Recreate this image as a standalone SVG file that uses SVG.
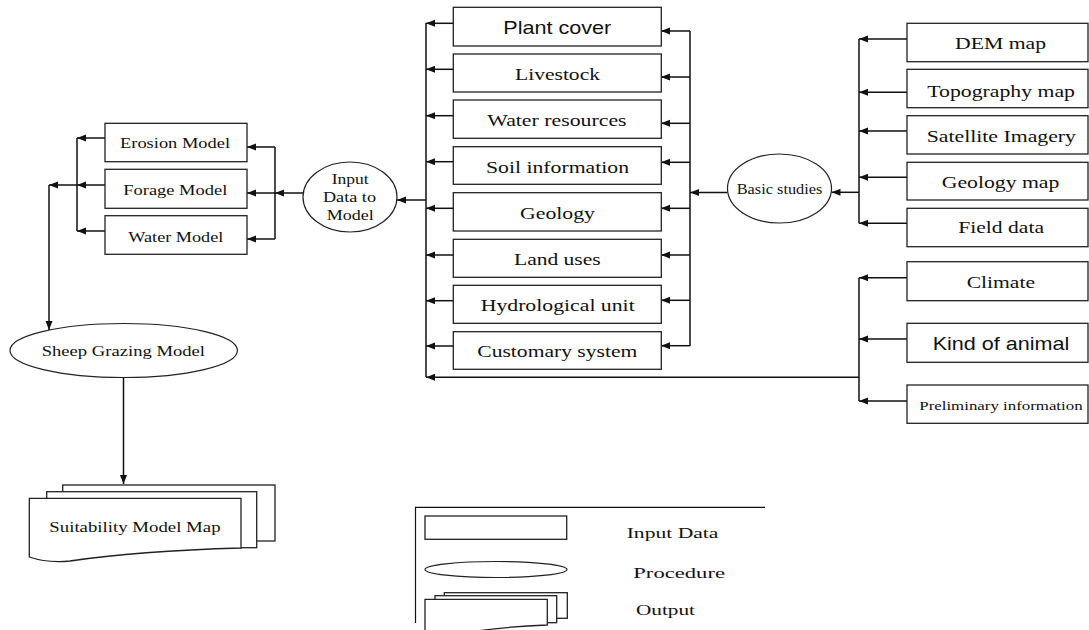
<svg xmlns="http://www.w3.org/2000/svg" width="1089" height="630" viewBox="0 0 1089 630">
<defs>
<marker id="ah" markerUnits="userSpaceOnUse" markerWidth="10" markerHeight="8" refX="9" refY="3.5" orient="auto">
<path d="M0,0 L9,3.5 L0,7 z" fill="#111"/>
</marker>
<style>
.box{fill:#fff;stroke:#222;stroke-width:1.3}
.el{fill:#fff;stroke:#222;stroke-width:1.2}
.ln{fill:none;stroke:#111;stroke-width:1.5}
.ar{fill:none;stroke:#111;stroke-width:1.5;marker-end:url(#ah)}
.t{font-family:"Liberation Serif","Times New Roman",serif;fill:#111}
.s{font-family:"Liberation Sans",Arial,sans-serif;fill:#111}
</style>
</defs>
<rect width="1089" height="630" fill="#fff"/>

<g id="connectors">
<!-- left model group -->
<path class="ln" d="M77,138 V231"/>
<path class="ar" d="M105,138 H77"/>
<path class="ar" d="M105,185 H77"/>
<path class="ar" d="M105,231 H77"/>
<path class="ar" d="M77,185 H49"/>
<path class="ar" d="M49,185 V330"/>
<path class="ln" d="M275,147 V239"/>
<path class="ar" d="M275,147 H247"/>
<path class="ar" d="M275,193 H247"/>
<path class="ar" d="M275,239 H247"/>
<path class="ar" d="M303,193 H275"/>
<path class="ar" d="M426,200 H397"/>
<!-- middle group -->
<path class="ln" d="M426,23 V377"/>
<path class="ar" d="M453,23.3 H426"/>
<path class="ar" d="M453,69.3 H426"/>
<path class="ar" d="M453,115.7 H426"/>
<path class="ar" d="M453,161.7 H426"/>
<path class="ar" d="M453,208.3 H426"/>
<path class="ar" d="M453,255 H426"/>
<path class="ar" d="M453,300.7 H426"/>
<path class="ar" d="M453,346 H426"/>
<path class="ln" d="M690,31 V346"/>
<path class="ar" d="M690,31 H661"/>
<path class="ar" d="M690,77 H661"/>
<path class="ar" d="M690,123.3 H661"/>
<path class="ar" d="M690,162.3 H661"/>
<path class="ar" d="M690,208.3 H661"/>
<path class="ar" d="M690,255 H661"/>
<path class="ar" d="M690,300.3 H661"/>
<path class="ar" d="M690,345.7 H661"/>
<path class="ar" d="M727.5,192.5 H690"/>
<path class="ar" d="M859,377.3 H426"/>
<!-- right group -->
<path class="ln" d="M859,39 V223.3"/>
<path class="ar" d="M907,39 H859"/>
<path class="ar" d="M907,92.3 H859"/>
<path class="ar" d="M907,131 H859"/>
<path class="ar" d="M907,177.3 H859"/>
<path class="ar" d="M907,223.3 H859"/>
<path class="ar" d="M859,192.3 H831.5"/>
<path class="ln" d="M859,277.7 V401"/>
<path class="ar" d="M907,277.7 H859"/>
<path class="ar" d="M907,339 H859"/>
<path class="ar" d="M907,401 H859"/>
<!-- sheep to output -->
<path class="ar" d="M123.5,377.5 V484"/>
</g>

<g id="erosion-model"><rect class="box" x="105" y="123.3" width="142" height="38.4"/><text class="t" x="120" y="148.3" font-size="15" textLength="110" lengthAdjust="spacingAndGlyphs">Erosion Model</text></g>
<g id="forage-model"><rect class="box" x="105" y="169.3" width="142" height="39"/><text class="t" x="123.3" y="195" font-size="15" textLength="104" lengthAdjust="spacingAndGlyphs">Forage Model</text></g>
<g id="water-model"><rect class="box" x="105" y="215.7" width="142" height="38.6"/><text class="t" x="128.3" y="241.7" font-size="15" textLength="95" lengthAdjust="spacingAndGlyphs">Water Model</text></g>

<g id="input-data-to-model"><ellipse class="el" cx="350" cy="197" rx="47" ry="35"/>
<text class="t" x="331.7" y="184" font-size="15.5" textLength="37" lengthAdjust="spacingAndGlyphs">Input</text>
<text class="t" x="323" y="202" font-size="15.5" textLength="53" lengthAdjust="spacingAndGlyphs">Data to</text>
<text class="t" x="326.7" y="220" font-size="15.5" textLength="47" lengthAdjust="spacingAndGlyphs">Model</text></g>

<g id="plant-cover"><rect class="box" x="453.3" y="7.3" width="208" height="38.7"/><text class="s" x="503.3" y="34.3" font-size="19" textLength="108" lengthAdjust="spacingAndGlyphs">Plant cover</text></g>
<g id="livestock"><rect class="box" x="453.3" y="54" width="208" height="38"/><text class="t" x="515" y="80" font-size="17.5" textLength="85" lengthAdjust="spacingAndGlyphs">Livestock</text></g>
<g id="water-resources"><rect class="box" x="453.3" y="100" width="208" height="38.3"/><text class="t" x="487.3" y="126" font-size="17.5" textLength="139.3" lengthAdjust="spacingAndGlyphs">Water resources</text></g>
<g id="soil-information"><rect class="box" x="453.3" y="146.7" width="208" height="37.6"/><text class="t" x="486" y="172.7" font-size="17.5" textLength="143" lengthAdjust="spacingAndGlyphs">Soil information</text></g>
<g id="geology"><rect class="box" x="453.3" y="192.7" width="208" height="38.3"/><text class="t" x="520" y="219.3" font-size="17.5" textLength="75" lengthAdjust="spacingAndGlyphs">Geology</text></g>
<g id="land-uses"><rect class="box" x="453.3" y="239.3" width="208" height="38"/><text class="t" x="514" y="265" font-size="17.5" textLength="86.7" lengthAdjust="spacingAndGlyphs">Land uses</text></g>
<g id="hydrological-unit"><rect class="box" x="453.3" y="285.3" width="208" height="38"/><text class="t" x="480.7" y="311" font-size="17.5" textLength="154" lengthAdjust="spacingAndGlyphs">Hydrological unit</text></g>
<g id="customary-system"><rect class="box" x="453.3" y="331.7" width="208" height="37.6"/><text class="t" x="477.3" y="356.7" font-size="17.5" textLength="160" lengthAdjust="spacingAndGlyphs">Customary system</text></g>

<g id="basic-studies"><ellipse class="el" cx="779.5" cy="188.5" rx="52" ry="34.5"/><text class="t" x="736.7" y="194" font-size="14" textLength="85.7" lengthAdjust="spacingAndGlyphs">Basic studies</text></g>

<g id="dem-map"><rect class="box" x="907" y="23.3" width="181" height="38.4"/><text class="t" x="955" y="49.3" font-size="17.5" textLength="91" lengthAdjust="spacingAndGlyphs">DEM map</text></g>
<g id="topography-map"><rect class="box" x="907" y="69.3" width="181" height="38.4"/><text class="t" x="927.3" y="96.7" font-size="17.5" textLength="147.7" lengthAdjust="spacingAndGlyphs">Topography map</text></g>
<g id="satellite-imagery"><rect class="box" x="907" y="115.7" width="181" height="38.3"/><text class="t" x="926.7" y="141.7" font-size="17.5" textLength="149.3" lengthAdjust="spacingAndGlyphs">Satellite Imagery</text></g>
<g id="geology-map"><rect class="box" x="907" y="162.3" width="181" height="37.7"/><text class="t" x="941.7" y="188.3" font-size="17.5" textLength="117.7" lengthAdjust="spacingAndGlyphs">Geology map</text></g>
<g id="field-data"><rect class="box" x="907" y="208.3" width="181" height="38.4"/><text class="t" x="958.3" y="233.3" font-size="17.5" textLength="85.7" lengthAdjust="spacingAndGlyphs">Field data</text></g>
<g id="climate"><rect class="box" x="907" y="261.7" width="181" height="39"/><text class="t" x="966.7" y="287.7" font-size="17.5" textLength="68.3" lengthAdjust="spacingAndGlyphs">Climate</text></g>
<g id="kind-of-animal"><rect class="box" x="907" y="323.3" width="181" height="39"/><text class="s" x="932.7" y="350" font-size="19" textLength="136.7" lengthAdjust="spacingAndGlyphs">Kind of animal</text></g>
<g id="preliminary-information"><rect class="box" x="907" y="385" width="181" height="38.3"/><text class="t" x="919.3" y="410" font-size="13.5" textLength="163.3" lengthAdjust="spacingAndGlyphs">Preliminary information</text></g>

<g id="sheep-grazing-model"><ellipse class="el" cx="123.7" cy="350.5" rx="113.7" ry="27"/><text class="t" x="41.7" y="356" font-size="15" textLength="163.3" lengthAdjust="spacingAndGlyphs">Sheep Grazing Model</text></g>

<g id="suitability-model-map">
<rect class="box" x="62.7" y="485" width="212.3" height="56"/>
<rect class="box" x="46.7" y="491.7" width="210" height="56"/>
<path class="box" d="M29.3,498.3 H241 V548 C 170,550 110,555 70,561 C 50,563 38,560 29.3,557 Z"/>
<text class="t" x="49.3" y="532" font-size="15" textLength="171.3" lengthAdjust="spacingAndGlyphs">Suitability Model Map</text>
</g>

<g id="legend">
<path class="ln" d="M765,507.3 H415.5 V623" style="stroke-width:1.2"/>
<rect class="box" x="425" y="516" width="141.7" height="23.3"/>
<ellipse class="el" cx="496" cy="569.5" rx="71" ry="8"/>
<rect class="box" x="444.3" y="592.7" width="123" height="25.6"/>
<rect class="box" x="435" y="595.7" width="121.7" height="27"/>
<path class="box" d="M425,599.3 H547.3 V625 C 520,626 490,629 470,632 L425,635 Z"/>
<text class="t" x="626.7" y="538.3" font-size="15.5" textLength="91.7" lengthAdjust="spacingAndGlyphs">Input Data</text>
<text class="t" x="633.3" y="578.3" font-size="15.5" textLength="91.7" lengthAdjust="spacingAndGlyphs">Procedure</text>
<text class="t" x="636" y="615" font-size="15.5" textLength="59" lengthAdjust="spacingAndGlyphs">Output</text>
</g>
</svg>
